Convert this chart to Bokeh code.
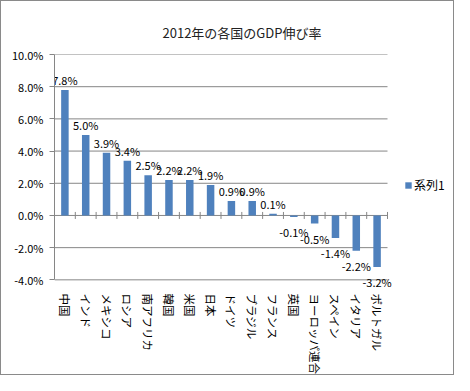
from bokeh.plotting import figure
from bokeh.models import (ColumnDataSource, Range1d, FixedTicker, NumeralTickFormatter,
                          Legend, LegendItem)
from bokeh.core.properties import value
from bokeh.embed import file_html
from bokeh.resources import INLINE

categories = ["中国", "インド", "メキシコ", "ロシア", "南アフリカ", "韓国", "米国", "日本",
              "ドイツ", "ブラジル", "フランス", "英国", "ヨーロッパ連合", "スペイン", "イタリア", "ポルトガル"]
growth = [7.8, 5.0, 3.9, 3.4, 2.5, 2.2, 2.2, 1.9, 0.9, 0.9, 0.1, -0.1, -0.5, -1.4, -2.2, -3.2]
y_ticks = [-0.04, -0.02, 0.0, 0.02, 0.04, 0.06, 0.08, 0.10]
series_name = "系列1"
title_text = "2012年の各国のGDP伸び率"

FONT = "Noto Sans CJK JP"
BLUE = "#4F81BD"
GRAY = "#868686"

n = len(categories)
xs = [i + 0.5 for i in range(n)]
vals = [v / 100 for v in growth]
src = ColumnDataSource(dict(
    x=xs, top=vals,
    label=["%.1f%%" % v for v in growth],
    yoff=[-10 if v >= 0 else 15 for v in growth],
))

# plot area: categories occupy 333 px, the rest of the frame (to the right) holds the legend
FRAME_W = 400
CAT_W = 333
p = figure(width=454, height=375, output_backend="svg", toolbar_location=None,
           x_range=Range1d(0, n * FRAME_W / CAT_W), y_range=Range1d(-0.046, 0.10),
           min_border_left=53, min_border_right=1, min_border_top=53, min_border_bottom=83)
p.styles = {"border": "1px solid #8a8a8a", "box-sizing": "border-box"}

p.title.text = title_text
p.title.text_font = FONT
p.title.text_font_size = "13px"
p.title.text_font_style = "normal"
p.title.text_color = "#222222"
p.title.align = "left"
p.title.offset = 108
p.title.standoff = 26

p.outline_line_color = None
p.xgrid.grid_line_color = None
p.ygrid.grid_line_color = None

# horizontal gridlines (incl. the 0 axis line) spanning only the category area
p.segment(x0=[0] * len(y_ticks), x1=[n] * len(y_ticks), y0=y_ticks, y1=y_ticks,
          line_color=GRAY, line_width=1)

# y axis
p.yaxis.ticker = FixedTicker(ticks=y_ticks)
p.yaxis.bounds = (y_ticks[0], y_ticks[-1])
p.yaxis.formatter = NumeralTickFormatter(format="0.0%")
p.yaxis.axis_line_color = GRAY
p.yaxis.major_tick_line_color = GRAY
p.yaxis.major_tick_out = 5
p.yaxis.major_tick_in = 0
p.yaxis.minor_tick_line_color = None
p.yaxis.major_label_text_font = FONT
p.yaxis.major_label_text_font_size = "11px"
p.yaxis.major_label_text_color = "#000000"
p.yaxis.major_label_standoff = 6

# x axis (labels only, at the bottom)
p.xaxis.ticker = FixedTicker(ticks=xs)
p.xaxis.major_label_overrides = {x: c for x, c in zip(xs, categories)}
p.xaxis.major_label_orientation = "vertical"
p.xaxis.axis_line_color = None
p.xaxis.major_tick_line_color = None
p.xaxis.minor_tick_line_color = None
p.xaxis.major_label_text_font = FONT
p.xaxis.major_label_text_font_size = "11.5px"
p.xaxis.major_label_text_color = "#000000"
p.xaxis.major_label_standoff = -2

bars = p.vbar(x="x", top="top", bottom=0, width=0.36, source=src,
              fill_color=BLUE, line_color=None)

# crossing tick marks at category boundaries on the 0 line
p.scatter(x=list(range(n + 1)), y=[0] * (n + 1), marker="dash", angle=1.5708,
          size=7, line_color=GRAY, line_width=1)

p.text(x="x", y="top", text="label", source=src, y_offset="yoff",
       text_align="center", text_baseline="alphabetic",
       text_font=value(FONT), text_font_size="11px", text_color="#000000")

legend = Legend(items=[LegendItem(label=series_name, renderers=[bars])],
                location=(350, 96), padding=0, margin=0, spacing=0,
                border_line_color=None, background_fill_alpha=0,
                glyph_width=8, glyph_height=8, label_height=12, label_standoff=2,
                label_text_font=FONT, label_text_font_size="12px",
                label_text_color="#000000")
p.add_layout(legend, "center")

open("out.html", "w").write(file_html(p, INLINE))
